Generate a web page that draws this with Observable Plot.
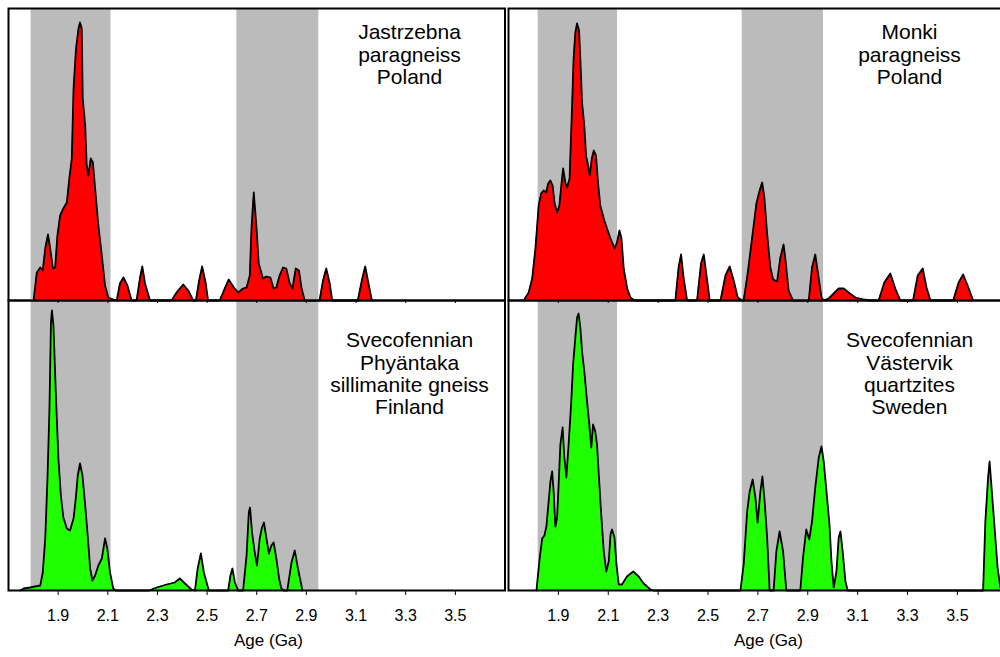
<!DOCTYPE html>
<html>
<head>
<meta charset="utf-8">
<script src="https://cdn.jsdelivr.net/npm/d3@7"></script>
<script src="https://cdn.jsdelivr.net/npm/@observablehq/plot@0.6"></script>
<style>
  html, body { margin: 0; padding: 0; background: #fff; overflow: hidden; }
  #wrap { position: relative; width: 1000px; height: 657px; overflow: hidden; background: #fff; }
  #wrap > div, #wrap > svg { position: absolute; }
</style>
</head>
<body>
<div id="wrap"></div>
<script>
// ---------- data (age in Ga, relative probability) ----------
const tickValues = [1.9, 2.1, 2.3, 2.5, 2.7, 2.9, 3.1, 3.3, 3.5];
const axisTitle = "Age (Ga)";

const bandsLeft  = [{from: 1.791, to: 2.113}, {from: 2.620, to: 2.950}];
const bandsRight = [{from: 1.819, to: 2.137}, {from: 2.637, to: 2.963}];

const jastrzebnaAge = [1.801,1.814,1.828,1.838,1.848,1.859,1.868,1.879,1.888,1.897,1.908,1.921,1.935,1.945,1.955,1.962,1.972,1.982,1.988,1.995,1.999,2.009,2.015,2.022,2.031,2.040,2.049,2.062,2.076,2.089,2.102,2.122,2.136,2.149,2.163,2.179,2.196,2.216,2.230,2.239,2.250,2.270,2.357,2.377,2.404,2.424,2.444,2.455,2.468,2.480,2.494,2.504,2.551,2.571,2.587,2.608,2.625,2.645,2.659,2.672,2.679,2.688,2.699,2.708,2.725,2.739,2.755,2.768,2.779,2.792,2.806,2.819,2.833,2.844,2.857,2.870,2.880,2.893,2.953,2.967,2.980,2.994,3.004,3.107,3.125,3.137,3.150,3.164];
const jastrzebnaProb = [0,28,33,30,52,66,52,32,33,65,85,92,98,122,142,212,252,272,278,272,202,175,135,125,142,138,112,75,45,15,3,1,0,17,23,15,0,0,23,34,17,0,0,8,16,10,0,0,20,34,18,0,0,12,21,13,8,12,13,25,73,108,73,37,22,24,23,12,13,25,33,32,17,12,32,30,13,0,0,20,32,17,0,0,22,34,17,0];

const monkiAge = [1.761,1.781,1.795,1.808,1.821,1.831,1.841,1.851,1.859,1.868,1.877,1.885,1.895,1.904,1.911,1.919,1.928,1.935,1.945,1.955,1.961,1.968,1.975,1.983,1.988,1.995,2.004,2.011,2.019,2.026,2.034,2.042,2.051,2.059,2.068,2.082,2.095,2.109,2.126,2.135,2.145,2.153,2.162,2.176,2.189,2.205,2.369,2.382,2.392,2.402,2.416,2.456,2.472,2.483,2.493,2.507,2.550,2.570,2.587,2.603,2.619,2.637,2.643,2.659,2.677,2.694,2.707,2.717,2.726,2.737,2.750,2.761,2.777,2.790,2.803,2.811,2.823,2.841,2.904,2.917,2.930,2.941,2.955,2.964,2.984,3.004,3.024,3.044,3.064,3.091,3.124,3.150,3.184,3.207,3.231,3.251,3.271,3.322,3.341,3.361,3.376,3.392,3.483,3.505,3.523,3.541,3.563];
const monkiProb = [0,8,22,52,95,107,110,108,117,120,115,97,88,95,113,132,118,113,122,195,242,268,277,270,242,198,175,145,135,125,142,150,145,118,95,82,72,62,52,58,70,62,32,12,3,0,0,33,46,23,0,0,37,46,27,0,0,25,34,20,3,0,0,27,63,97,110,118,103,67,33,21,19,43,56,40,10,0,0,33,46,27,3,0,2,7,12,12,8,3,1,0,0,18,27,12,0,0,25,32,13,0,0,18,26,15,0];

const pyhantakaAge = [1.747,1.761,1.787,1.828,1.838,1.848,1.857,1.865,1.871,1.875,1.881,1.891,1.901,1.911,1.921,1.935,1.948,1.962,1.971,1.979,1.988,1.998,2.009,2.019,2.029,2.038,2.049,2.062,2.076,2.089,2.098,2.109,2.122,2.133,2.267,2.297,2.337,2.370,2.390,2.411,2.437,2.451,2.462,2.475,2.487,2.507,2.585,2.594,2.602,2.612,2.625,2.645,2.659,2.668,2.673,2.681,2.692,2.701,2.712,2.721,2.729,2.739,2.749,2.759,2.768,2.779,2.790,2.799,2.809,2.823,2.840,2.853,2.866,2.884];
const pyhantakaProb = [0,2,3,5,18,52,112,182,268,280,265,195,132,95,73,62,60,72,92,115,127,115,85,55,22,10,15,25,32,52,42,18,2,0,0,3,6,8,12,7,1,0,22,37,18,0,0,15,22,8,0,0,35,78,83,58,38,25,52,63,68,52,37,45,48,32,12,2,0,0,28,40,22,0];

const vastervikAge = [1.812,1.825,1.835,1.844,1.852,1.861,1.868,1.875,1.881,1.888,1.895,1.901,1.908,1.917,1.924,1.932,1.941,1.951,1.959,1.968,1.975,1.981,1.988,1.995,2.004,2.015,2.024,2.032,2.039,2.048,2.055,2.062,2.071,2.082,2.092,2.102,2.109,2.115,2.125,2.133,2.142,2.155,2.175,2.200,2.222,2.242,2.269,2.282,2.630,2.643,2.657,2.667,2.679,2.690,2.699,2.710,2.718,2.727,2.737,2.747,2.763,2.774,2.787,2.801,2.814,2.870,2.881,2.894,2.906,2.917,2.930,2.944,2.955,2.964,2.975,2.987,2.995,3.004,3.015,3.024,3.031,3.040,3.051,3.060,3.603,3.612,3.623,3.629,3.639,3.652,3.661,3.672,3.685];
const vastervikProb = [0,32,52,55,64,89,109,119,99,64,73,106,146,163,133,113,146,186,226,253,273,277,263,239,219,189,166,143,166,159,146,116,79,39,19,29,56,61,53,26,6,6,14,19,14,7,1,0,0,26,79,99,111,93,68,99,114,89,53,0,0,39,59,39,0,0,33,61,51,69,103,133,144,129,99,66,29,3,19,53,59,39,9,0,0,69,113,129,96,53,23,3,0];

const panels = [
  {age: jastrzebnaAge, prob: jastrzebnaProb, label: "Jastrzebna\nparagneiss\nPoland", col: 0, row: 0, color: "#ff0000"},
  {age: monkiAge, prob: monkiProb, label: "Monki\nparagneiss\nPoland", col: 1, row: 0, color: "#ff0000"},
  {age: pyhantakaAge, prob: pyhantakaProb, label: "Svecofennian\nPhyäntaka\nsillimanite gneiss\nFinland", col: 0, row: 1, color: "#1fff00"},
  {age: vastervikAge, prob: vastervikProb, label: "Svecofennian\nVästervik\nquartzites\nSweden", col: 1, row: 1, color: "#1fff00"}
];

const font = "'Liberation Sans', Arial, Helvetica, sans-serif";
const wrap = document.getElementById("wrap");

function makePanel(p) {
  const top = p.row === 0;
  const left = p.col === 0;
  const rows = p.age.map((a, i) => ({age: a, prob: p.prob[i]}));
  const width = left ? 505 : 510;
  const height = top ? 306 : 357;
  const chart = Plot.plot({
    width, height,
    marginLeft: 8,
    marginRight: left ? 0.5 : 3.2,
    marginTop: top ? 8 : 0,
    marginBottom: top ? 6 : 67,
    x: {
      domain: [1.7, 3.7],
      ticks: tickValues,
      tickSize: top ? 3 : 5,
      tickPadding: 14,
      tickFormat: top ? () => "" : d => d.toFixed(1),
      label: null
    },
    y: {domain: [0, top ? 292 : 290], axis: null},
    style: {background: "transparent", fontFamily: font, fontSize: "16px", color: "black", overflow: "visible"},
    marks: [
      Plot.rect(left ? bandsLeft : bandsRight, {x1: "from", x2: "to", fill: "#bbbbbb"}),
      Plot.areaY(rows, {x: "age", y: "prob", fill: p.color}),
      Plot.lineY(rows, {x: "age", y: "prob", stroke: "black", strokeWidth: 1.8}),
      Plot.frame({stroke: "black", strokeWidth: 2}),
      Plot.text([p.label], {
        frameAnchor: "top-left", dx: 401, dy: top ? 15 : 31,
        textAnchor: "middle", lineAnchor: "top", lineHeight: 1.06,
        fontSize: 21, fill: "black"
      }),
      top ? null : Plot.text([axisTitle], {
        frameAnchor: "bottom-left", dx: 260, dy: 50,
        textAnchor: "middle", lineAnchor: "middle", fontSize: 17, fill: "black"
      })
    ]
  });
  chart.style.position = "absolute";
  chart.style.left = (left ? 0 : 500) + "px";
  chart.style.top = (top ? 0 : 300) + "px";
  chart.style.maxWidth = "none";
  return chart;
}

// bottom panels first, top panels drawn above them (their ticks overlap y=300)
[panels[2], panels[3], panels[0], panels[1]].forEach(p => wrap.appendChild(makePanel(p)));
</script>
</body>
</html>
